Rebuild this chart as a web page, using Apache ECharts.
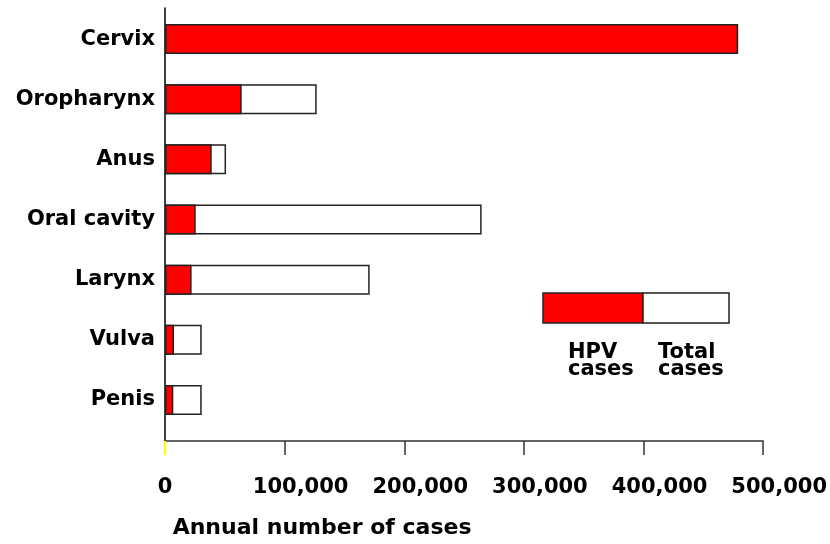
<!DOCTYPE html>
<html>
<head>
<meta charset="utf-8">
<script src="https://cdn.jsdelivr.net/npm/echarts@6/dist/echarts.min.js"></script>
<style>html,body{margin:0;padding:0;background:#fff}#c{width:830px;height:544px}</style>
</head>
<body>
<div id="c"></div>
<script>
const categories = ['Cervix', 'Oropharynx', 'Anus', 'Oral cavity', 'Larynx', 'Vulva', 'Penis'];
const hpvCases = [476000, 63700, 38800, 25500, 22100, 7500, 6900];
const totalCases = [476000, 126000, 50700, 263000, 170000, 30500, 30500];
const xTicks = [0, 100000, 200000, 300000, 400000, 500000];
const xMin = 0, xMax = 500000, xStep = 100000;

const FONT = 'DejaVu Sans';
const fmt = v => v === 0 ? '{z|0}' : '{n|' + v.toLocaleString('en-US') + '}';
const lblStyle = { color: '#000', fontFamily: FONT, fontWeight: 'bold', fontSize: 21 };

const chart = echarts.init(document.getElementById('c'));
chart.setOption({
  animation: false,
  grid: [
    { left: 165, right: 63, top: 9, height: 421 },
    { left: 165, right: 63, top: 8, bottom: 103 }
  ],
  xAxis: [
    { gridIndex: 0, type: 'value', min: xMin, max: xMax, interval: xStep, show: false },
    {
      gridIndex: 1, type: 'value', min: xMin, max: xMax, interval: xStep, position: 'bottom',
      axisLine: { show: true, lineStyle: { color: '#333', width: 1.5 } },
      axisTick: { show: true, length: 14, lineStyle: { color: '#333', width: 1.5 } },
      splitLine: { show: false },
      axisLabel: {
        margin: 36,
        formatter: v => xTicks.indexOf(v) >= 0 ? fmt(v) : '',
        rich: {
          z: Object.assign({}, lblStyle),
          n: Object.assign({ padding: [0, 0, 0, 32] }, lblStyle)
        }
      },
      name: 'Annual number of cases', nameLocation: 'middle', nameGap: 76,
      nameTextStyle: { color: '#000', fontFamily: FONT, fontWeight: 'bold', fontSize: 22, padding: [0, 284, 0, 0] }
    },
    {
      gridIndex: 1, type: 'value', min: xMin, max: xMax, interval: xStep, position: 'bottom',
      axisLine: { show: false }, splitLine: { show: false }, axisLabel: { show: false },
      axisTick: { show: true, length: 14, customValues: [0], lineStyle: { color: '#ffff00', width: 2 } }
    }
  ],
  yAxis: [
    {
      gridIndex: 0, type: 'category', data: categories, inverse: true,
      axisLine: { show: false }, axisTick: { show: false },
      axisLabel: { margin: 10, color: '#000', fontFamily: FONT, fontWeight: 'bold', fontSize: 21 }
    },
    {
      gridIndex: 1, type: 'value', min: 0, max: 1,
      axisLine: { show: true, lineStyle: { color: '#000', width: 1.5 } },
      axisTick: { show: false }, axisLabel: { show: false }, splitLine: { show: false }
    }
  ],
  series: [
    {
      name: 'Total cases', type: 'bar', xAxisIndex: 0, yAxisIndex: 0, data: totalCases,
      barWidth: 30, itemStyle: { color: '#ffffff', borderColor: '#222', borderWidth: 1.5 }
    },
    {
      name: 'HPV cases', type: 'bar', xAxisIndex: 0, yAxisIndex: 0, data: hpvCases,
      barWidth: 30, barGap: '-100%', itemStyle: { color: '#ff0000', borderColor: '#222', borderWidth: 1.5 }
    }
  ],
  graphic: [
    { type: 'rect', shape: { x: 543, y: 293, width: 100, height: 30 }, style: { fill: '#ff0000', stroke: '#222', lineWidth: 1.5 } },
    { type: 'rect', shape: { x: 643, y: 293, width: 86, height: 30 }, style: { fill: '#ffffff', stroke: '#222', lineWidth: 1.5 } },
    { type: 'text', left: 568, top: 342, style: { text: 'HPV\ncases', fill: '#000', font: 'bold 21px "DejaVu Sans"', lineHeight: 17 } },
    { type: 'text', left: 658, top: 342, style: { text: 'Total\ncases', fill: '#000', font: 'bold 21px "DejaVu Sans"', lineHeight: 17 } }
  ]
});
</script>
</body>
</html>
